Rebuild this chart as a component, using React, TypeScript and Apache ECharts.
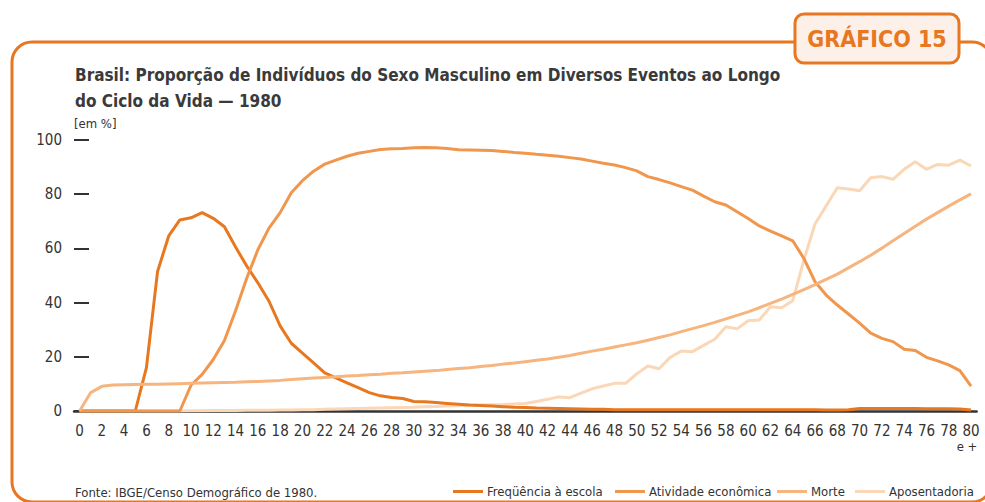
import { useEffect, useRef } from 'react';
import * as echarts from 'echarts';

const ages = [
  '0','1','2','3','4','5','6','7','8','9',
  '10','11','12','13','14','15','16','17','18','19',
  '20','21','22','23','24','25','26','27','28','29',
  '30','31','32','33','34','35','36','37','38','39',
  '40','41','42','43','44','45','46','47','48','49',
  '50','51','52','53','54','55','56','57','58','59',
  '60','61','62','63','64','65','66','67','68','69',
  '70','71','72','73','74','75','76','77','78','79',
  '80'
];

const escola = [
  0, 0, 0, 0, 0, 0, 16, 51.5, 64.6, 70.5,
  71.3, 73.2, 71.1, 68, 60.5, 53.5, 47.3, 40.5, 31.4, 25,
  21.4, 17.8, 14.1, 12.2, 10.4, 8.6, 6.8, 5.6, 5.0, 4.6,
  3.5, 3.4, 3.1, 2.8, 2.5, 2.2, 2.0, 1.8, 1.6, 1.4,
  1.3, 1.1, 1.0, 0.9, 0.8, 0.7, 0.6, 0.6, 0.5, 0.5,
  0.5, 0.5, 0.5, 0.5, 0.5, 0.5, 0.5, 0.5, 0.5, 0.5,
  0.5, 0.5, 0.5, 0.5, 0.5, 0.5, 0.5, 0.4, 0.4, 0.5,
  0.9, 0.9, 0.9, 0.9, 0.9, 0.9, 0.8, 0.8, 0.8, 0.7,
  0.4
];

const atividade = [
  0, 0, 0, 0, 0, 0, 0, 0, 0, 0,
  9.5, 13.5, 19, 26, 37, 49, 59.5, 67.5, 73.2, 80.5,
  85, 88.5, 91.1, 92.6, 94, 95.1, 95.8, 96.5, 96.8, 96.9,
  97.1, 97.2, 97.1, 96.9, 96.4, 96.3, 96.2, 96.1, 95.8, 95.4,
  95.1, 94.7, 94.4, 94.0, 93.5, 93.0, 92.2, 91.4, 90.8, 89.8,
  88.6, 86.5, 85.4, 84.2, 82.8, 81.5, 79.3, 77.2, 76.0, 73.5,
  71.0, 68.3, 66.4, 64.6, 62.8, 56.3, 47.7, 42.8, 39.1, 35.8,
  32.4, 28.7, 26.8, 25.6, 22.8, 22.3, 19.8, 18.5, 17.0, 14.9,
  9.2
];

const morte = [
  0, 6.8, 9.1, 9.6, 9.7, 9.8, 9.9, 9.9, 10.0, 10.1,
  10.2, 10.3, 10.4, 10.5, 10.6, 10.8, 10.9, 11.1, 11.3, 11.6,
  11.9, 12.2, 12.4, 12.6, 12.9, 13.1, 13.4, 13.6, 13.9, 14.1,
  14.4, 14.7, 14.9, 15.3, 15.7, 16.0, 16.4, 16.8, 17.3, 17.7,
  18.2, 18.7, 19.2, 19.8, 20.5, 21.3, 22.1, 22.8, 23.6, 24.4,
  25.2, 26.1, 27.1, 28.1, 29.3, 30.4, 31.5, 32.7, 34.0, 35.3,
  36.6, 38.1, 39.7, 41.3, 43.0, 44.8, 46.6, 48.6, 50.5, 52.8,
  55.1, 57.5, 60.1, 62.8, 65.5, 68.2, 70.8, 73.2, 75.6, 77.9,
  80.1
];

const aposentadoria = [
  0, 0, 0, 0, 0, 0, 0, 0, 0, 0,
  0.1, 0.1, 0.2, 0.2, 0.2, 0.3, 0.3, 0.3, 0.4, 0.4,
  0.5, 0.5, 0.6, 0.7, 0.8, 0.9, 1.0, 1.1, 1.2, 1.3,
  1.4, 1.6, 1.7, 1.8, 1.9, 2.1, 2.2, 2.3, 2.4, 2.6,
  2.8, 3.5, 4.3, 5.2, 4.9, 6.6, 8.2, 9.2, 10.2, 10.2,
  13.7, 16.6, 15.6, 19.8, 22.1, 21.9, 24.2, 26.5, 31.1, 30.3,
  33.3, 33.6, 38.5, 38.1, 40.7, 55.7, 69.0, 75.7, 82.4, 81.9,
  81.3, 86.1, 86.5, 85.5, 89.2, 92.0, 89.2, 91.0, 90.7, 92.6,
  90.4
];

const seriesNames = ['Freqüência à escola', 'Atividade econômica', 'Morte', 'Aposentadoria'];
const seriesColors = ['#e8781f', '#f0964d', '#f6b47f', '#fad7b6'];
const legendLefts = [453, 615, 777, 855];

const titleText = 'Brasil: Proporção de Indivíduos do Sexo Masculino em Diversos Eventos ao Longo\ndo Ciclo da Vida — 1980';
const unitText = '[em %]';
const sourceText = 'Fonte: IBGE/Censo Demográfico de 1980.';
const badgeText = 'GRÁFICO 15';
const lastAgeSuffix = 'e +';

const FONT = "'DejaVu Sans Condensed', sans-serif";
const ORANGE = '#e87722';
const TEXT = '#333333';

export default function App() {
  const ref = useRef<HTMLDivElement>(null);
  useEffect(() => {
    const chart = echarts.init(ref.current!, null, { renderer: 'svg' });
    const dataSets = [escola, atividade, morte, aposentadoria];
    chart.setOption({
      animation: false,
      backgroundColor: '#ffffff',
      title: {
        text: titleText,
        left: 75,
        top: 62,
        padding: 0,
        textStyle: { fontFamily: FONT, fontSize: 17, fontWeight: 'bold', color: '#3a3a3a', lineHeight: 26 },
      },
      legend: seriesNames.map((n, i) => ({
        data: [n],
        left: legendLefts[i],
        top: 485,
        icon: 'rect',
        itemWidth: 30,
        itemHeight: 3,
        padding: 0,
        textStyle: { fontFamily: FONT, fontSize: 13, color: TEXT, padding: [0, 0, 0, -1] },
      })),
      grid: { left: 74, right: 8.4, top: 140, bottom: 91 },
      xAxis: {
        type: 'category',
        data: ages,
        boundaryGap: true,
        axisLine: { lineStyle: { color: TEXT, width: 2.5 } },
        axisTick: { inside: true, length: 10, interval: 0, lineStyle: { color: TEXT, width: 1.5 } },
        axisLabel: {
          interval: 1,
          margin: 12,
          fontFamily: FONT,
          fontSize: 15,
          lineHeight: 15,
          color: TEXT,
        },
        splitLine: { show: false },
      },
      yAxis: {
        type: 'value',
        min: 0,
        max: 100,
        interval: 20,
        axisLine: { show: false },
        axisTick: { show: true, inside: true, length: 15, lineStyle: { color: TEXT, width: 2 } },
        axisLabel: { margin: 12, fontFamily: FONT, fontSize: 15, color: TEXT },
        splitLine: { show: false },
      },
      series: seriesNames.map((n, i) => ({
        name: n,
        type: 'line',
        data: dataSets[i],
        symbol: 'none',
        color: seriesColors[i],
        lineStyle: { width: 3, color: seriesColors[i] },
        z: i === 3 ? 1 : 2,
      })),
      graphic: [
        {
          type: 'rect',
          z: 0,
          shape: { x: 12, y: 42, width: 980, height: 460, r: 20 },
          style: { fill: 'none', stroke: ORANGE, lineWidth: 3 },
          silent: true,
        },
        {
          type: 'rect',
          z: 10,
          shape: { x: 795, y: 14, width: 164, height: 49, r: 9 },
          style: { fill: '#fdf0e8', stroke: ORANGE, lineWidth: 3 },
          silent: true,
        },
        {
          type: 'text',
          z: 11,
          x: 877,
          y: 39,
          style: { text: badgeText, fill: ORANGE, fontFamily: FONT, fontSize: 23, fontWeight: 'bold', align: 'center', verticalAlign: 'middle' },
          silent: true,
        },
        {
          type: 'text',
          x: 74,
          y: 123,
          style: { text: unitText, fill: TEXT, fontFamily: FONT, fontSize: 13, align: 'left', verticalAlign: 'middle' },
          silent: true,
        },
        {
          type: 'text',
          x: 967,
          y: 446,
          style: { text: lastAgeSuffix, fill: TEXT, fontFamily: FONT, fontSize: 13, lineHeight: 13, align: 'center', verticalAlign: 'middle' },
          silent: true,
        },
        {
          type: 'text',
          x: 75,
          y: 492,
          style: { text: sourceText, fill: TEXT, fontFamily: FONT, fontSize: 13, align: 'left', verticalAlign: 'middle' },
          silent: true,
        },
      ],
    });
    return () => chart.dispose();
  }, []);
  return <div ref={ref} style={{ position: 'fixed', left: 0, top: 0, width: 985, height: 502 }} />;
}
